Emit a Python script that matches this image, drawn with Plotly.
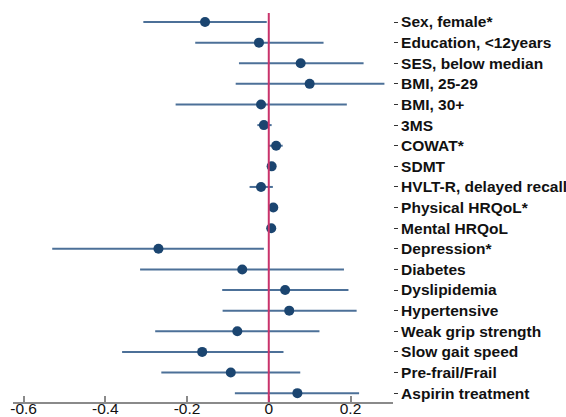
import plotly.graph_objects as go

# Predictors (top to bottom), point estimates and 95% CI bounds
labels = [
    "Sex, female*", "Education, <12years", "SES, below median", "BMI, 25-29",
    "BMI, 30+", "3MS", "COWAT*", "SDMT", "HVLT-R, delayed recall",
    "Physical HRQoL*", "Mental HRQoL", "Depression*", "Diabetes",
    "Dyslipidemia", "Hypertensive", "Weak grip strength", "Slow gait speed",
    "Pre-frail/Frail", "Aspirin treatment",
]
estimate = [-0.156, -0.024, 0.078, 0.100, -0.019, -0.012, 0.018, 0.007, -0.019,
            0.011, 0.006, -0.270, -0.065, 0.040, 0.050, -0.077, -0.163, -0.093, 0.070]
ci_low = [-0.307, -0.180, -0.073, -0.081, -0.228, -0.028, 0.000, 0.002, -0.047,
          0.006, 0.002, -0.530, -0.315, -0.114, -0.113, -0.278, -0.359, -0.263, -0.083]
ci_high = [-0.005, 0.134, 0.232, 0.283, 0.191, 0.007, 0.034, 0.012, 0.010,
           0.016, 0.010, -0.012, 0.184, 0.195, 0.215, 0.124, 0.036, 0.077, 0.221]
x_ticks = [-0.6, -0.4, -0.2, 0, 0.2]
x_ticktext = ["-0.6", "-0.4", "-0.2", "0", "0.2"]

rows = list(range(len(labels)))
err_plus = [h - e for h, e in zip(ci_high, estimate)]
err_minus = [e - l for e, l in zip(estimate, ci_low)]

fig = go.Figure()
fig.add_trace(go.Scatter(
    x=estimate, y=rows, mode="markers",
    marker=dict(color="#1b4570", size=10),
    error_x=dict(type="data", symmetric=False, array=err_plus, arrayminus=err_minus,
                 color="#4c7098", thickness=2, width=0),
    showlegend=False, hoverinfo="skip",
))

# Reference line at zero effect
fig.add_shape(type="line", xref="x", yref="paper", x0=0, x1=0, y0=0, y1=1,
              line=dict(color="#c9336b", width=2), layer="above")

fig.update_layout(
    width=566, height=417,
    margin=dict(l=13, r=173, t=13, b=15),
    paper_bgcolor="white", plot_bgcolor="white",
    font=dict(family="Liberation Sans, Arial, sans-serif", color="#111111"),
)
fig.update_xaxes(
    range=[-0.626, 0.304], tickvals=x_ticks, ticktext=x_ticktext,
    showgrid=False, zeroline=False, showline=True, linecolor="#8a8a8a", linewidth=1.5,
    ticks="inside", ticklen=6, tickcolor="#8a8a8a", tickwidth=1.5,
    tickfont=dict(size=15.5, color="#111111"), ticklabelstandoff=-8, automargin=False,
)
fig.update_yaxes(
    range=[18.43, -0.437], tickvals=rows,
    ticktext=["<b>%s</b>" % s for s in labels],
    side="right", showgrid=False, zeroline=False, showline=False,
    ticks="outside", ticklen=4, tickcolor="#333333", tickwidth=1,
    tickfont=dict(size=15.5, color="#111111"), automargin=False,
)

fig.write_html("out.html")
